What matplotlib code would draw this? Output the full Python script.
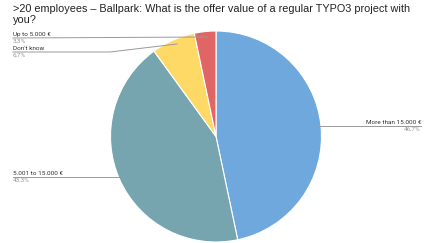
import matplotlib
matplotlib.use("Agg")
import matplotlib.pyplot as plt
from matplotlib.lines import Line2D

categories = ["More than 15.000 €", "5.001 to 15.000 €", "Don't know", "Up to 5.000 €"]
values = [46.7, 43.3, 6.7, 3.3]
pct_labels = ["46,7%", "43,3%", "6,7%", "3,3%"]
colors = ["#6fa8dc", "#76a5af", "#ffd966", "#e06666"]

W, H = 433, 243
fig = plt.figure(figsize=(W / 100, H / 100), dpi=100)

def fx(x):
    return x / W

def fy(y):
    return 1 - y / H

cx, cy, r = 216, 136.5, 105.5
ax = fig.add_axes([fx(cx - r), fy(cy + r), 2 * r / W, 2 * r / H])
ax.pie(values, colors=colors, startangle=90, counterclock=False,
       wedgeprops=dict(edgecolor="white", linewidth=0.8))
ax.set_xlim(-1, 1)
ax.set_ylim(-1, 1)
ax.set_aspect("equal")
ax.axis("off")

fig.text(fx(13), fy(3.5), ">20 employees – Ballpark: What is the offer value of a regular TYPO3 project with\nyou?",
         fontsize=7.8, family="Liberation Sans", va="top", ha="left", color="#222222", linespacing=1.18)

lab_font = dict(family="Roboto", fontsize=4.6)
line_col = "#999999"

def poly(xs, ys):
    fig.add_artist(Line2D([fx(x) for x in xs], [fy(y) for y in ys], color=line_col, lw=0.7,
                          transform=fig.transFigure))

# More than 15.000
poly([320, 421], [126, 126])
fig.text(fx(421), fy(125), categories[0], ha="right", va="bottom", color="#333333", **lab_font)
fig.text(fx(421), fy(127), pct_labels[0], ha="right", va="top", color="#999999", **lab_font)

# 5.001 to 15.000
poly([13, 124], [177, 177])
fig.text(fx(13), fy(176), categories[1], ha="left", va="bottom", color="#333333", **lab_font)
fig.text(fx(13), fy(178), pct_labels[1], ha="left", va="top", color="#999999", **lab_font)

# Don't know
poly([13, 110, 177], [52, 52, 44])
fig.text(fx(13), fy(51), categories[2], ha="left", va="bottom", color="#333333", **lab_font)
fig.text(fx(13), fy(53), pct_labels[2], ha="left", va="top", color="#999999", **lab_font)

# Up to 5.000
poly([13, 207], [38, 37])
fig.text(fx(13), fy(37), categories[3], ha="left", va="bottom", color="#333333", **lab_font)
fig.text(fx(13), fy(39), pct_labels[3], ha="left", va="top", color="#999999", **lab_font)

fig.savefig("out.png", dpi=100)
